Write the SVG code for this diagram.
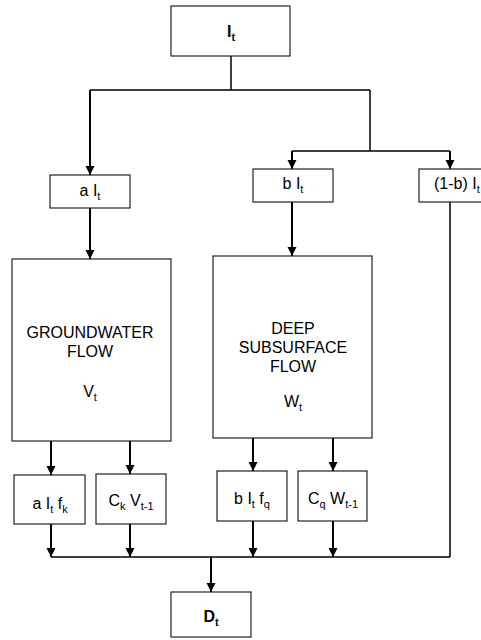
<svg xmlns="http://www.w3.org/2000/svg" width="481" height="640" viewBox="0 0 481 640">
<style>
.box{fill:#fff;stroke:#222;stroke-width:1.2}
.t{font-family:"Liberation Sans",Arial,sans-serif;font-size:16px;fill:#000;text-anchor:middle}
.b{font-weight:bold}
.s{font-size:11px}
.ln{fill:none;stroke:#000;stroke-width:1.5}
.ar{fill:none;stroke:#000;stroke-width:2;marker-end:url(#ah)}
</style>
<defs>
<marker id="ah" markerUnits="userSpaceOnUse" markerWidth="10" markerHeight="10" refX="9" refY="5" orient="auto">
<path d="M0,0.5 L9,5 L0,9.5 z" fill="#000"/>
</marker>
</defs>
<g id="connectors">
<path class="ln" d="M231,56 V90 M90,90 H370 M370,90 V151 M292,151 H450 M450,202 V557 M51,557 H450"/>
<path class="ar" d="M90,90 V175"/>
<path class="ar" d="M90,208 V259"/>
<path class="ar" d="M292,151 V169"/>
<path class="ar" d="M450,151 V169"/>
<path class="ar" d="M292,202 V256"/>
<path class="ar" d="M51,441 V475"/>
<path class="ar" d="M130,441 V474"/>
<path class="ar" d="M253,438 V471"/>
<path class="ar" d="M333,438 V471"/>
<path class="ar" d="M51,524 V557"/>
<path class="ar" d="M130,524 V557"/>
<path class="ar" d="M253,521 V557"/>
<path class="ar" d="M333,521 V557"/>
<path class="ar" d="M211,557 V592"/>
</g>
<g id="It">
<rect class="box" x="171" y="6" width="119" height="50"/>
<text class="t b" x="231" y="37">I<tspan class="s" dy="4">t</tspan></text>
</g>
<g id="aIt">
<rect class="box" x="50" y="175" width="80" height="33"/>
<text class="t" x="90" y="196">a I<tspan class="s" dy="4">t</tspan></text>
</g>
<g id="bIt">
<rect class="box" x="253" y="169" width="80" height="33"/>
<text class="t" x="293" y="189">b I<tspan class="s" dy="4">t</tspan></text>
</g>
<g id="one-minus-bIt">
<rect class="box" x="419" y="169" width="70" height="33"/>
<text class="t" x="434" y="189" style="text-anchor:start">(1-b) I<tspan class="s" dy="4">t</tspan></text>
</g>
<g id="groundwater">
<rect class="box" x="12" y="259" width="159" height="182"/>
<text class="t" x="90" y="338">GROUNDWATER</text>
<text class="t" x="90" y="357">FLOW</text>
<text class="t" x="90" y="397">V<tspan class="s" dy="4">t</tspan></text>
</g>
<g id="deep">
<rect class="box" x="213" y="256" width="159" height="182"/>
<text class="t" x="293" y="334">DEEP</text>
<text class="t" x="293" y="353">SUBSURFACE</text>
<text class="t" x="293" y="372">FLOW</text>
<text class="t" x="293" y="407">W<tspan class="s" dy="4">t</tspan></text>
</g>
<g id="aItfk">
<rect class="box" x="14" y="475" width="71" height="49"/>
<text class="t" x="50" y="509">a I<tspan class="s" dy="4">t</tspan><tspan dy="-4"> f</tspan><tspan class="s" dy="4">k</tspan></text>
</g>
<g id="CkVt1">
<rect class="box" x="96" y="474" width="70" height="50"/>
<text class="t" x="131" y="506">C<tspan class="s" dy="4">k</tspan><tspan dy="-4"> V</tspan><tspan class="s" dy="4">t-1</tspan></text>
</g>
<g id="bItfq">
<rect class="box" x="217" y="471" width="70" height="50"/>
<text class="t" x="252" y="504">b I<tspan class="s" dy="4">t</tspan><tspan dy="-4"> f</tspan><tspan class="s" dy="4">q</tspan></text>
</g>
<g id="CqWt1">
<rect class="box" x="298" y="471" width="69" height="50"/>
<text class="t" x="333" y="504">C<tspan class="s" dy="4">q</tspan><tspan dy="-4"> W</tspan><tspan class="s" dy="4">t-1</tspan></text>
</g>
<g id="Dt">
<rect class="box" x="171" y="592" width="80" height="45"/>
<text class="t b" x="211" y="622">D<tspan class="s" dy="4">t</tspan></text>
</g>
</svg>
